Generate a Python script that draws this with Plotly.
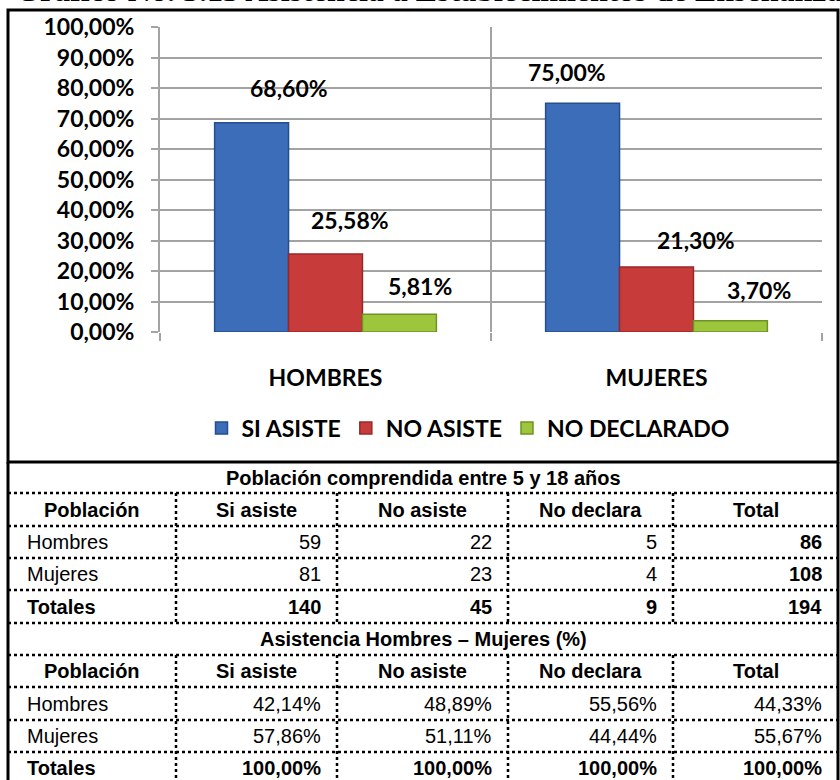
import plotly.graph_objects as go

# ---------------- data ----------------
categories = ["HOMBRES", "MUJERES"]
series_names = ["SI ASISTE", "NO ASISTE", "NO DECLARADO"]
si_asiste = [68.60, 75.00]
no_asiste = [25.58, 21.30]
no_declarado = [5.81, 3.70]
y_ticks = [0, 10, 20, 30, 40, 50, 60, 70, 80, 90, 100]

title_text = "Gráfico No. 3.13 Asistencia a Establecimientos de Enseñanza"

table1_title = "Población comprendida entre 5 y 18 años"
table2_title = "Asistencia Hombres – Mujeres (%)"
table_headers = ["Población", "Si asiste", "No asiste", "No declara", "Total"]
row_labels = ["Hombres", "Mujeres", "Totales"]
t1_si = [59, 81, 140]
t1_no = [22, 23, 45]
t1_nd = [5, 4, 9]
t1_total = [86, 108, 194]
t2_si = [42.14, 57.86, 100.00]
t2_no = [48.89, 51.11, 100.00]
t2_nd = [55.56, 44.44, 100.00]
t2_total = [44.33, 55.67, 100.00]

# ---------------- style ----------------
W, H = 840, 780
def px(x):
    return x / W
def py(y):
    return 1 - y / H

colors = ["#3B6DB8", "#C83B3B", "#9DC63C"]
edge_colors = ["#254E8F", "#962828", "#6F9226"]
grid_col = "#A3A3A3"
chart_font = dict(family="Lato", size=23, color="black", weight="bold")
tbl_font = "Liberation Sans"
tbl_size = 20

def comma(v, dec=2):
    return f"{v:.{dec}f}".replace(".", ",")

bargap = 0.33
bar_w = (1 - bargap) / 3

fig = go.Figure()
all_series = [si_asiste, no_asiste, no_declarado]
for name, vals, c, ec in zip(series_names, all_series, colors, edge_colors):
    fig.add_trace(go.Bar(x=categories, y=vals, name=name,
                         marker=dict(color=c, line=dict(color=ec, width=1.5))))

# data label offsets (pixels) relative to top-centre of each bar
label_dx = [[37, -16], [24, 39], [21, 29]]
label_dy = [[35, 31], [34, 27], [28, 31]]

annotations = []
for i, vals in enumerate(all_series):
    for j, v in enumerate(vals):
        annotations.append(dict(
            x=j + (i - 1) * bar_w, y=v, xref="x", yref="y",
            xshift=label_dx[i][j], yshift=label_dy[i][j],
            text=comma(v) + "%", showarrow=False,
            xanchor="center", yanchor="middle",
            font=chart_font))

# page title, cut off by the top edge as in the reference
annotations.append(dict(x=px(13), y=py(-10), xref="paper", yref="paper",
                        xanchor="left", yanchor="middle", showarrow=False,
                        text="<b>" + title_text + "</b>",
                        font=dict(family="Liberation Serif", size=32, color="black")))

# ---------------- table ----------------
col_edges = [8, 176, 337, 508, 673, 838]
row_edges = [462, 493, 526, 558, 590, 623, 655, 687, 720, 752, 784]
shapes = []
# chart frame
shapes.append(dict(type="rect", xref="paper", yref="paper",
                   x0=px(8), x1=px(838), y0=py(462), y1=py(10),
                   line=dict(color="black", width=3)))
for xe in (8, 838):
    shapes.append(dict(type="line", xref="paper", yref="paper",
                       x0=px(xe), x1=px(xe), y0=py(462), y1=py(784),
                       line=dict(color="black", width=3)))
for ye in row_edges[1:-1]:
    shapes.append(dict(type="line", xref="paper", yref="paper",
                       x0=px(8), x1=px(838), y0=py(ye), y1=py(ye),
                       line=dict(color="black", width=2.5, dash="dot")))
for xe in col_edges[1:-1]:
    for (ya, yb) in ((row_edges[1], row_edges[5]), (row_edges[6], row_edges[10])):
        shapes.append(dict(type="line", xref="paper", yref="paper",
                           x0=px(xe), x1=px(xe), y0=py(ya), y1=py(yb),
                           line=dict(color="black", width=2.5, dash="dot")))

def tcell(text, col, row, align, bold):
    yc = (row_edges[row] + row_edges[row + 1]) / 2
    if align == "center":
        x, xa = (col_edges[col] + col_edges[col + 1]) / 2, "center"
    elif align == "left":
        x, xa = col_edges[col] + 17, "left"
    else:
        x, xa = col_edges[col + 1] - 14, "right"
    annotations.append(dict(x=px(x), y=py(yc), xref="paper", yref="paper",
                            xanchor=xa, yanchor="middle", showarrow=False,
                            text=("<b>%s</b>" % text) if bold else text,
                            font=dict(family=tbl_font, size=tbl_size, color="black")))

def title_cell(text, row):
    yc = (row_edges[row] + row_edges[row + 1]) / 2
    annotations.append(dict(x=px((col_edges[0] + col_edges[-1]) / 2), y=py(yc),
                            xref="paper", yref="paper", xanchor="center",
                            yanchor="middle", showarrow=False,
                            text="<b>%s</b>" % text,
                            font=dict(family=tbl_font, size=tbl_size, color="black")))

# table 1
title_cell(table1_title, 0)
for c, h in enumerate(table_headers):
    tcell(h, c, 1, "center", True)
for r, lab in enumerate(row_labels):
    tot = (r == 2)
    tcell(lab, 0, 2 + r, "left", tot)
    for c, vals in enumerate([t1_si, t1_no, t1_nd, t1_total]):
        tcell(str(vals[r]), c + 1, 2 + r, "right", tot or c == 3)
# table 2
title_cell(table2_title, 5)
for c, h in enumerate(table_headers):
    tcell(h, c, 6, "center", True)
for r, lab in enumerate(row_labels):
    tot = (r == 2)
    tcell(lab, 0, 7 + r, "left", tot)
    for c, vals in enumerate([t2_si, t2_no, t2_nd, t2_total]):
        tcell(comma(vals[r]) + "%", c + 1, 7 + r, "right", tot)

fig.update_layout(
    template="none",
    width=W, height=H, autosize=False,
    margin=dict(l=0, r=0, t=0, b=0, pad=0, autoexpand=False),
    paper_bgcolor="white", plot_bgcolor="white",
    barmode="group", bargap=bargap, bargroupgap=0,
    showlegend=True,
    legend=dict(orientation="h", x=px(468), xanchor="center",
                y=py(428), yanchor="middle",
                font=dict(family="Lato", size=23, color="black", weight="bold"),
                bgcolor="rgba(0,0,0,0)", itemclick=False),
    xaxis=dict(domain=[px(160), px(822)], type="category", automargin=False,
               tickson="boundaries", showgrid=True, gridcolor=grid_col,
               gridwidth=2, ticks="outside", ticklen=8, tickcolor=grid_col,
               tickwidth=2, showline=False, zeroline=False,
               tickfont=dict(family="Lato", size=23, color="black", weight="bold"),
               ticklabelstandoff=30),
    yaxis=dict(domain=[py(332), py(27)], range=[0, 100], automargin=False,
               tickvals=y_ticks, ticktext=[comma(v) + "%" for v in y_ticks],
               showgrid=True, gridcolor=grid_col, gridwidth=2,
               ticks="outside", ticklen=7, tickcolor=grid_col, tickwidth=2,
               showline=True, linecolor=grid_col, linewidth=2, zeroline=False,
               tickfont=dict(family="Lato", size=23, color="black", weight="bold"),
               ticklabelstandoff=12),
    annotations=annotations,
    shapes=shapes,
)

# the page itself should not add a margin around the figure
fig.write_html("out.html",
               config={"displayModeBar": False},
               post_script="document.body.style.margin='0';"
                           "document.body.style.overflow='hidden';")
